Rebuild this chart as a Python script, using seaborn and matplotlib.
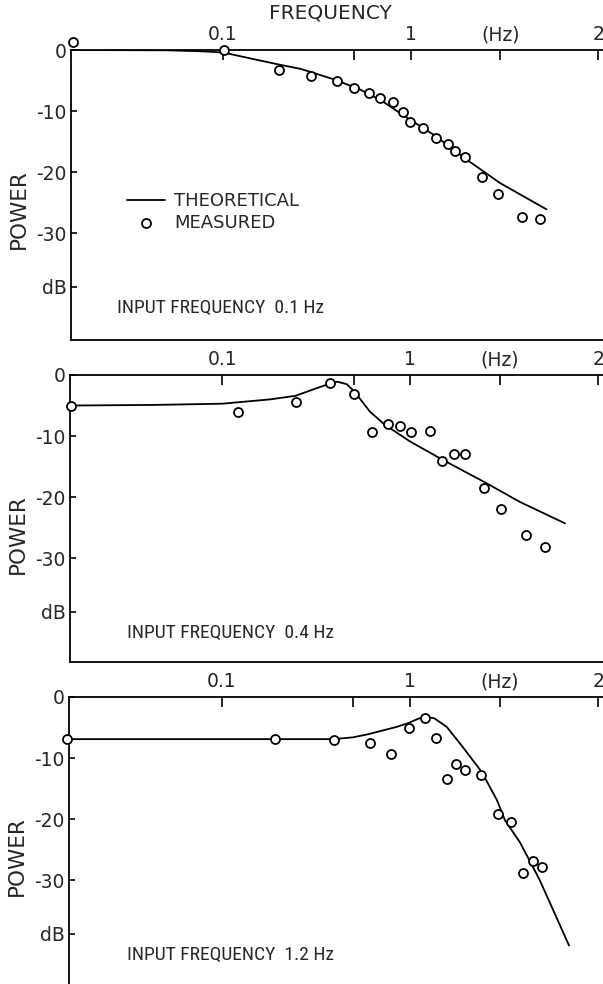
import matplotlib
matplotlib.use("Agg")
import matplotlib.pyplot as plt
import matplotlib.transforms as mtransforms
from matplotlib.ticker import FixedLocator, FixedFormatter, NullLocator
from matplotlib import font_manager
import pandas as pd
import seaborn as sns

# ---------------- data ----------------
# Panel 1: input frequency 0.1 Hz
p1_meas_freq = [0.0159, 0.101, 0.199, 0.294, 0.404, 0.498, 0.598, 0.684, 0.802, 0.907,
                0.988, 1.17, 1.37, 1.59, 1.73, 1.94, 2.39, 2.94, 3.94, 4.91]
p1_meas_db = [1.3, 0.0, -3.3, -4.3, -5.1, -6.2, -7.0, -7.9, -8.5, -10.2,
              -11.8, -12.8, -14.4, -15.4, -16.6, -17.5, -20.8, -23.6, -27.4, -27.7]
p1_theo_freq = [0.0159, 0.05, 0.075, 0.1, 0.141, 0.2, 0.26, 0.39, 0.54, 0.7, 0.885, 1.33, 2.0, 3.0, 5.3]
p1_theo_db = [0.0, -0.05, -0.2, -0.4, -1.4, -2.4, -3.1, -4.8, -6.5, -8.3, -10.4, -13.9, -18.0, -21.8, -26.1]

# Panel 2: input frequency 0.4 Hz
p2_meas_freq = [0.0156, 0.122, 0.246, 0.375, 0.505, 0.624, 0.764, 0.881, 1.01, 1.28,
                1.47, 1.70, 1.95, 2.47, 3.03, 4.12, 5.21]
p2_meas_db = [-5.0, -6.1, -4.4, -1.3, -3.1, -9.4, -8.1, -8.3, -9.3, -9.2,
              -14.1, -13.0, -13.0, -18.5, -22.0, -26.2, -28.1]
p2_theo_freq = [0.0156, 0.0434, 0.1, 0.179, 0.246, 0.315, 0.375, 0.41, 0.459, 0.505, 0.61,
                0.736, 1.0, 1.49, 2.47, 3.84, 6.66]
p2_theo_db = [-5.0, -4.9, -4.7, -4.0, -3.4, -2.2, -1.4, -1.1, -1.5, -2.7, -6.0,
              -8.2, -10.9, -13.9, -17.5, -20.8, -24.3]

# Panel 3: input frequency 1.2 Hz
p3_meas_freq = [0.0152, 0.192, 0.395, 0.615, 0.790, 0.986, 1.20, 1.38, 1.57, 1.76,
                1.96, 2.39, 2.92, 3.46, 3.98, 4.53, 5.05]
p3_meas_db = [-6.9, -6.9, -7.1, -7.5, -9.3, -5.1, -3.4, -6.7, -13.4, -10.9,
              -11.9, -12.8, -19.2, -20.4, -28.8, -26.8, -27.8]
p3_theo_freq = [0.0152, 0.192, 0.395, 0.5, 0.6, 0.693, 0.85, 0.976, 1.1, 1.2, 1.35, 1.57,
                1.91, 2.41, 2.90, 3.20, 3.84, 4.86, 7.0]
p3_theo_db = [-6.9, -6.9, -6.9, -6.6, -6.1, -5.6, -4.9, -4.3, -3.6, -3.2, -3.5, -4.9,
              -8.2, -12.3, -16.9, -20.2, -23.8, -29.8, -40.7]

input_labels = ["INPUT FREQUENCY  0.1 Hz", "INPUT FREQUENCY  0.4 Hz", "INPUT FREQUENCY  1.2 Hz"]
xtick_freqs = [0.1, 0.5, 1, 3, 10]
xtick_labels = ["0.1", "", "1", "(Hz)", "2"]
ytick_vals = [0, -10, -20, -30, -38.8]
ytick_labels = ["0", "-10", "-20", "-30", "dB"]

panels = [
    (p1_meas_freq, p1_meas_db, p1_theo_freq, p1_theo_db),
    (p2_meas_freq, p2_meas_db, p2_theo_freq, p2_theo_db),
    (p3_meas_freq, p3_meas_db, p3_theo_freq, p3_theo_db),
]

# ---------------- style ----------------
sns.set_style("white")
plt.rcParams["font.family"] = ["DejaVu Sans"]
names = {f.name for f in font_manager.fontManager.ttflist}
narrow = [n for n in ["Roboto Condensed", "Liberation Sans Narrow"] if n in names]
narrow_family = narrow + ["DejaVu Sans"]
TICK_FS = 13.5

W, H = 603, 984
fig = plt.figure(figsize=(W / 100, H / 100), dpi=100)

boxes = [(71, 50, 340), (70, 375, 662), (69, 697, 984)]
ylows = [-47.5, -47.0, -47.0]
text_x = [117, 127, 127]

for i, ((mf, md, tf, td), (lpx, tpx, bpx)) in enumerate(zip(panels, boxes)):
    ax = fig.add_axes([lpx / W, 1 - bpx / H, (W - lpx) / W, (bpx - tpx) / H])
    ax.set_xscale("log")
    theo = pd.DataFrame({"freq": tf, "db": td})
    meas = pd.DataFrame({"freq": mf, "db": md})
    sns.lineplot(data=theo, x="freq", y="db", ax=ax, color="black", lw=1.3,
                 sort=False, estimator=None, label="THEORETICAL")
    sns.scatterplot(data=meas, x="freq", y="db", ax=ax, marker="o", s=42,
                    facecolor="white", edgecolor="black", linewidth=1.3,
                    label="MEASURED", clip_on=False, zorder=5)
    ax.set_xlim(0.0155, 10.6)
    ax.set_ylim(ylows[i], 0)

    ax.xaxis.set_major_locator(FixedLocator(xtick_freqs))
    ax.xaxis.set_major_formatter(FixedFormatter(xtick_labels))
    ax.xaxis.set_minor_locator(NullLocator())
    ax.tick_params(axis="x", which="major", top=True, bottom=False, labeltop=True,
                   labelbottom=False, direction="in", length=7, width=1.2,
                   pad=4, labelsize=TICK_FS, color="black")
    ax.set_yticks(ytick_vals)
    ax.set_yticklabels(ytick_labels)
    ax.tick_params(axis="y", left=True, direction="in", length=4, width=1.2,
                   pad=3, labelsize=TICK_FS, color="black")

    for side in ["left", "top", "bottom"]:
        ax.spines[side].set_visible(True)
        ax.spines[side].set_color("black")
        ax.spines[side].set_linewidth(1.3)
    ax.spines["right"].set_visible(False)
    if i == 2:
        ax.spines["bottom"].set_visible(False)

    ax.set_xlabel("")
    ax.set_ylabel("")
    trans = mtransforms.blended_transform_factory(ax.transAxes, ax.transData)
    ax.text(-0.098, -26, "POWER", transform=trans, rotation=90, ha="center",
            va="center", fontsize=15.5)
    ax.text((text_x[i] - lpx) / (W - lpx), -42.2, input_labels[i], transform=trans,
            ha="left", va="center", fontsize=14, family=narrow_family)

    if i == 0:
        ax.legend(loc="upper left", bbox_to_anchor=(0.105, 0.51), frameon=False,
                  fontsize=13, handlelength=2.1, handletextpad=0.5,
                  labelspacing=0.2, borderpad=0, borderaxespad=0)
    else:
        leg = ax.get_legend()
        if leg is not None:
            leg.remove()

fig.text(330 / W, 1 - 13 / H, "FREQUENCY", ha="center", va="center", fontsize=14.5)

fig.savefig("out.png", dpi=100)
